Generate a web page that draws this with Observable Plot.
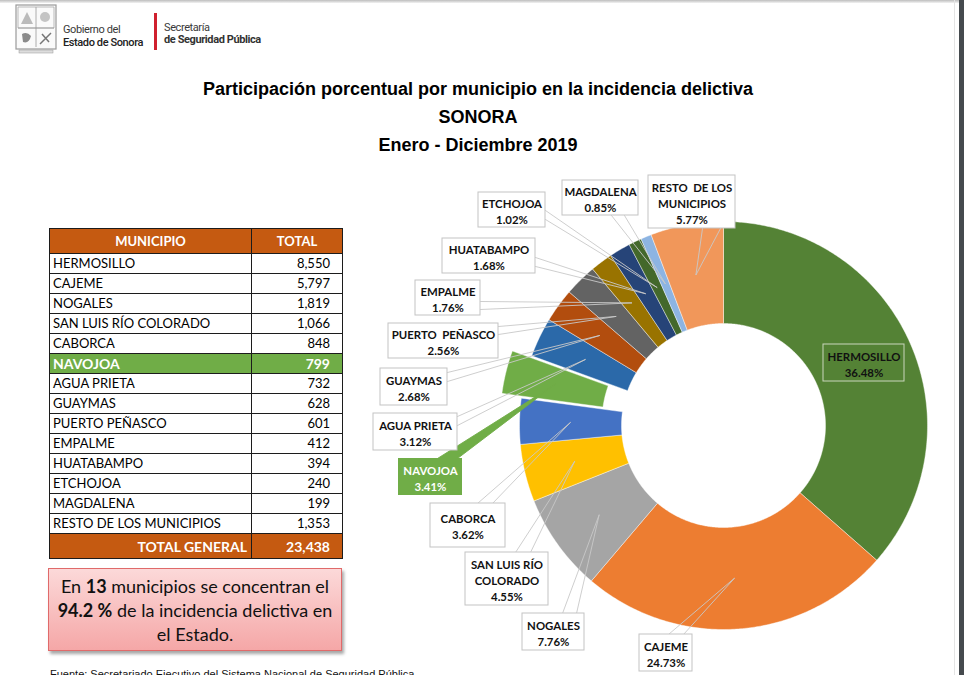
<!DOCTYPE html>
<html>
<head>
<meta charset="utf-8">
<script src="https://cdn.jsdelivr.net/npm/d3@7"></script>
<script src="https://cdn.jsdelivr.net/npm/@observablehq/plot@0.6"></script>
<style>
  html, body { margin: 0; padding: 0; background: #fff; }
  #page { position: relative; width: 964px; height: 675px; overflow: hidden; background: #fff; }
  .abs { position: absolute; }
  #topedge { left: 0; top: 0; width: 964px; height: 3px; background: linear-gradient(#bdbdbd, #f2f2f2); }
  #rightedge { left: 959px; top: 0; width: 5px; height: 675px; background: #454a4e; }
  #rightline { left: 954px; top: 0; width: 1px; height: 675px; background: #e4e4e4; }
  .hdr1 { font-family: Roboto, "Liberation Sans Narrow", sans-serif; color: #3a3a3a; font-size: 11px; line-height: 12px; letter-spacing: -0.4px; white-space: nowrap; }
  .title { font-family: "Liberation Sans", Arial, sans-serif; font-weight: bold; font-size: 18px; line-height: 20px; color: #000; text-align: center; width: 964px; left: -4px; }
  table#tbl { border-collapse: collapse; font-family: Lato, sans-serif; font-size: 13px; color: #000; }
  #tbl td { border: 1px solid #1c1c1c; padding: 0 3px; height: 19px; line-height: 19px; white-space: nowrap; }
  #tbl tr.head td { background: #C55A11; color: #fff; font-weight: bold; text-align: center; height: 24px; }
  #tbl tr.hl td { background: #70AD47; color: #fff; font-weight: bold; font-size: 14px; }
  #tbl tr.tot td { background: #C55A11; color: #fff; font-weight: bold; height: 24px; font-size: 14px; }
  #tbl td.num { text-align: right; padding-right: 12px; }
  #note { left: 48px; top: 568px; width: 292px; height: 81px; border: 1px solid #e06a6a;
          background: linear-gradient(#fcd9d9, #f5a7a7); box-shadow: 2px 3px 3px rgba(0,0,0,0.35);
          font-family: Lato, sans-serif; font-size: 18px; line-height: 24px; text-align: center; color: #111;
          display: flex; align-items: center; justify-content: center; }
  #foot { left: 50px; top: 668px; font-family: "Liberation Sans", Arial, sans-serif; font-size: 11px; line-height: 12px; color: #111; }
  #chart { left: 0; top: 0; }
</style>
</head>
<body>
<div id="page">
  <div class="abs" id="topedge"></div>
  <div class="abs" id="rightline"></div>
  <div class="abs" id="rightedge"></div>

  <!-- header logos -->
  <svg class="abs" style="left:15px;top:4px" width="42" height="50" viewBox="0 0 42 50">
    <rect x="1" y="1" width="40" height="44" fill="#fafafa" stroke="#9a9a9a" stroke-width="1.2"/>
    <path d="M3 3 L39 3 L39 24 L3 24 Z" fill="none" stroke="#aaa" stroke-width="0.8"/>
    <path d="M21 3 L21 43 M3 24 L39 24" stroke="#999" stroke-width="0.8"/>
    <path d="M6 20 L12 8 L18 20 Z" fill="#bbb"/>
    <circle cx="30" cy="13" r="5" fill="#c4c4c4"/>
    <path d="M7 30 Q12 27 16 32 Q14 40 8 38 Z" fill="#8a8a8a"/>
    <path d="M25 40 L36 29 M27 30 L34 38" stroke="#777" stroke-width="1.5"/>
    <rect x="4" y="46" width="34" height="3" fill="#ddd" stroke="#999" stroke-width="0.5"/>
  </svg>
  <div class="abs hdr1" style="left:63px;top:24px;">Gobierno del</div>
  <div class="abs hdr1" style="left:63px;top:37px;font-weight:500;color:#222;">Estado de Sonora</div>
  <div class="abs" style="left:154px;top:13px;width:3px;height:37px;background:#d0202e;"></div>
  <div class="abs hdr1" style="left:164px;top:22px;">Secretaría</div>
  <div class="abs hdr1" style="left:164px;top:34px;font-weight:bold;color:#333;">de Seguridad Pública</div>

  <!-- titles -->
  <div class="abs title" style="top:79px;">Participación porcentual por municipio en la incidencia delictiva</div>
  <div class="abs title" style="top:107px;">SONORA</div>
  <div class="abs title" style="top:135px;">Enero - Diciembre 2019</div>

  <div class="abs" id="tblwrap" style="left:49px;top:228px;"></div>

  <div class="abs" id="note"><div>En <b>13</b> municipios se concentran el<br><b>94.2 %</b> de la incidencia delictiva en<br>el Estado.</div></div>

  <div class="abs" id="foot">Fuente: Secretariado Ejecutivo del Sistema Nacional de Seguridad Pública</div>

  <div class="abs" id="chart"></div>
</div>

<script>
// ---------------- DATA ----------------
const municipios = ["HERMOSILLO", "CAJEME", "NOGALES", "SAN LUIS RÍO COLORADO", "CABORCA", "NAVOJOA",
  "AGUA PRIETA", "GUAYMAS", "PUERTO PEÑASCO", "EMPALME", "HUATABAMPO", "ETCHOJOA", "MAGDALENA",
  "RESTO DE LOS MUNICIPIOS"];
const totales = [8550, 5797, 1819, 1066, 848, 799, 732, 628, 601, 412, 394, 240, 199, 1353];
const totalGeneral = 23438;
// chart label text (line breaks as in the chart)
const etiquetas = ["HERMOSILLO", "CAJEME", "NOGALES", "SAN LUIS RÍO\nCOLORADO", "CABORCA", "NAVOJOA",
  "AGUA PRIETA", "GUAYMAS", "PUERTO  PEÑASCO", "EMPALME", "HUATABAMPO", "ETCHOJOA", "MAGDALENA",
  "RESTO  DE LOS\nMUNICIPIOS"];
const destacado = "NAVOJOA";

// ---------------- STYLE / LAYOUT ----------------
const colores = ["#548235", "#ED7D31", "#A5A5A5", "#FFC000", "#4472C4", "#70AD47",
  "#2B69A9", "#B24D0E", "#636363", "#997300", "#264478", "#43682B", "#8DB4E2", "#F1975A"];
const center = {x: 723, y: 425}, rOuter = 204, rInner = 102, explode = 20;
// label box [x1, y1, x2, y2] and wedge base points [bx1, by1, bx2, by2] (page px)
const boxes = [
  [823, 344, 904, 381, null],
  [639, 634, 692, 671, [668, 634, 683, 634]],
  [522, 613, 584, 650, [562, 613, 576, 613]],
  [465, 552, 548, 605, [515, 552, 530, 552]],
  [430, 503, 505, 547, [477, 503, 492, 503]],
  [398, 458, 462, 495, [437, 458, 457, 458]],
  [373, 413, 457, 450, [457, 416, 457, 425]],
  [380, 368, 447, 405, [447, 372, 447, 381]],
  [388, 323, 498, 358, [498, 326, 498, 334]],
  [415, 280, 480, 315, [480, 301, 480, 309]],
  [442, 238, 535, 273, [535, 257, 535, 266]],
  [478, 192, 545, 227, [545, 210, 545, 219]],
  [562, 180, 638, 215, [611, 215, 624, 215]],
  [648, 175, 735, 228, [702, 228, 720, 228]]
];

// ---------------- TABLE ----------------
const fmt = d3.format(",");
let html = '<table id="tbl"><colgroup><col style="width:202px"><col style="width:91px"></colgroup>';
html += '<tr class="head"><td>MUNICIPIO</td><td>TOTAL</td></tr>';
municipios.forEach((m, i) => {
  html += `<tr class="${m === destacado ? "hl" : ""}"><td>${m}</td><td class="num">${fmt(totales[i])}</td></tr>`;
});
html += `<tr class="tot"><td style="text-align:right;padding-right:4px">TOTAL GENERAL</td><td class="num">${fmt(totalGeneral)}</td></tr></table>`;
document.getElementById("tblwrap").innerHTML = html;

// ---------------- DONUT ----------------
const arcs = d3.pie().sort(null).value(d => d)(totales);
const slices = [], wedges = [], boxRows = [], texts = [];
arcs.forEach((a, i) => {
  const name = municipios[i];
  const mid = (a.startAngle + a.endAngle) / 2;
  const off = name === destacado ? explode : 0;
  const cx = center.x + off * Math.sin(mid), cy = center.y - off * Math.cos(mid);
  const n = Math.max(3, Math.ceil((a.endAngle - a.startAngle) / 0.01));
  const pts = [];
  for (let k = 0; k <= n; k++) {
    const t = a.startAngle + (a.endAngle - a.startAngle) * k / n;
    pts.push({name, color: colores[i], x: cx + rOuter * Math.sin(t), y: cy - rOuter * Math.cos(t)});
  }
  for (let k = n; k >= 0; k--) {
    const t = a.startAngle + (a.endAngle - a.startAngle) * k / n;
    pts.push({name, color: colores[i], x: cx + rInner * Math.sin(t), y: cy - rInner * Math.cos(t)});
  }
  pts.push({...pts[0]});
  slices.push(...pts);

  const pct = (100 * totales[i] / totalGeneral).toFixed(2) + "%";
  const [x1, y1, x2, y2, base] = boxes[i];
  const hl = name === destacado;
  if (base) {
    const rm = (rOuter + rInner) / 2;
    const tip = {x: cx + rm * Math.sin(mid), y: cy - rm * Math.cos(mid)};
    const fill = hl ? colores[i] : "none";
    const stroke = hl ? colores[i] : "#c8c8c8";
    [[base[0], base[1]], [tip.x, tip.y], [base[2], base[3]]]
      .forEach(([x, y]) => wedges.push({name, x, y, fill, stroke}));
  }
  boxRows.push({x1, y1, x2, y2, fill: i === 0 ? "none" : (hl ? colores[i] : "#ffffff"),
    stroke: i === 0 ? "#c9d6bd" : (hl ? "none" : "#c3c3c3")});
  texts.push({x: (x1 + x2) / 2, y: (y1 + y2) / 2 + 0.5, text: etiquetas[i] + "\n" + pct, color: hl ? "#ffffff" : "#111111"});
});

const plot = Plot.plot({
  width: 964, height: 675,
  margin: 0,
  x: {domain: [0, 964], range: [0, 964], axis: null},
  y: {domain: [0, 675], range: [0, 675], axis: null},
  color: {type: "identity"},
  style: {background: "transparent", overflow: "visible"},
  marks: [
    Plot.line(slices, {x: "x", y: "y", z: "name", fill: "color", stroke: "#ffffff", strokeWidth: 0.6, strokeOpacity: 0.7, curve: "linear"}),
    Plot.line(wedges, {x: "x", y: "y", z: "name", fill: "fill", stroke: "stroke", strokeWidth: 0.9, curve: "linear"}),
    Plot.rect(boxRows, {x1: "x1", x2: "x2", y1: "y1", y2: "y2", fill: "fill", stroke: "stroke", strokeWidth: 1}),
    Plot.text(texts, {x: "x", y: "y", text: "text", fill: "color", fontFamily: "Lato", fontWeight: "bold", fontSize: 11.4, lineHeight: 1.4})
  ]
});
plot.style.pointerEvents = "none";
document.getElementById("chart").appendChild(plot);
</script>
</body>
</html>
